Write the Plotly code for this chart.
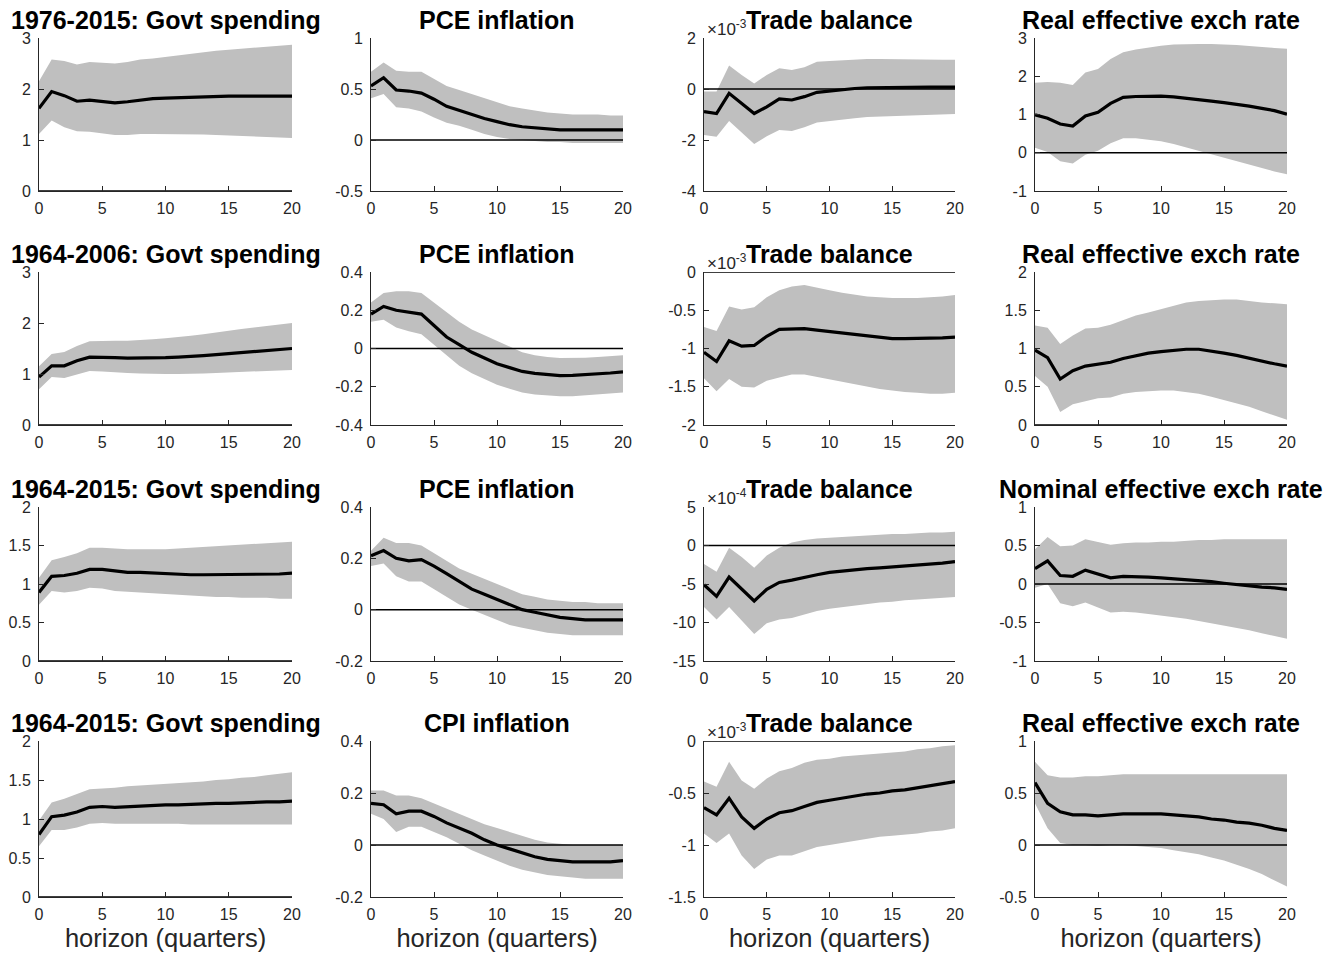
import plotly.graph_objects as go

# ---------------- data ----------------
HORIZON = list(range(21))
XLABEL = "horizon (quarters)"

TITLES = [
    ["1976-2015: Govt spending", "PCE inflation", "Trade balance", "Real effective exch rate"],
    ["1964-2006: Govt spending", "PCE inflation", "Trade balance", "Real effective exch rate"],
    ["1964-2015: Govt spending", "PCE inflation", "Trade balance", "Nominal effective exch rate"],
    ["1964-2015: Govt spending", "CPI inflation", "Trade balance", "Real effective exch rate"],
]

# y-axis ranges and tick steps per panel
YRANGES = [
    [(0, 3), (-0.5, 1), (-4, 2), (-1, 3)],
    [(0, 3), (-0.4, 0.4), (-2, 0), (0, 2)],
    [(0, 2), (-0.2, 0.4), (-15, 5), (-1, 1)],
    [(0, 2), (-0.2, 0.4), (-1.5, 0), (-0.5, 1)],
]
YSTEPS = [
    [1, 0.5, 2, 1],
    [1, 0.2, 0.5, 0.5],
    [0.5, 0.2, 5, 0.5],
    [0.5, 0.2, 0.5, 0.5],
]
# trade balance panels are shown in units of 10^exponent
TB_EXPONENT = [-3, -3, -4, -3]

# ----- row 1: 1976-2015 -----
G1_MED = [1.62, 1.95, 1.87, 1.76, 1.78, 1.76, 1.73, 1.75, 1.78, 1.81, 1.82, 1.83, 1.84, 1.84, 1.85, 1.86, 1.86, 1.86, 1.86, 1.86, 1.86]
G1_HI = [2.15, 2.58, 2.55, 2.48, 2.53, 2.52, 2.50, 2.53, 2.58, 2.60, 2.63, 2.67, 2.70, 2.73, 2.75, 2.77, 2.79, 2.81, 2.83, 2.85, 2.87]
G1_LO = [1.12, 1.38, 1.25, 1.17, 1.16, 1.13, 1.10, 1.10, 1.12, 1.12, 1.12, 1.12, 1.12, 1.11, 1.10, 1.09, 1.08, 1.07, 1.06, 1.05, 1.04]

P1_MED = [0.53, 0.61, 0.49, 0.48, 0.46, 0.40, 0.33, 0.29, 0.25, 0.21, 0.18, 0.15, 0.13, 0.12, 0.11, 0.10, 0.10, 0.10, 0.10, 0.10, 0.10]
P1_HI = [0.67, 0.76, 0.68, 0.67, 0.67, 0.60, 0.53, 0.49, 0.45, 0.41, 0.37, 0.33, 0.31, 0.29, 0.27, 0.26, 0.25, 0.25, 0.25, 0.24, 0.24]
P1_LO = [0.41, 0.45, 0.32, 0.31, 0.28, 0.22, 0.17, 0.14, 0.10, 0.06, 0.03, 0.01, 0.00, -0.01, -0.02, -0.02, -0.03, -0.03, -0.03, -0.03, -0.03]

T1_MED = [-0.89, -0.96, -0.17, -0.55, -0.96, -0.70, -0.39, -0.43, -0.30, -0.13, -0.07, -0.02, 0.02, 0.05, 0.06, 0.07, 0.07, 0.07, 0.07, 0.07, 0.07]
T1_HI = [-0.10, -0.10, 0.92, 0.55, 0.22, 0.55, 0.81, 0.75, 0.85, 1.07, 1.10, 1.13, 1.17, 1.18, 1.18, 1.17, 1.16, 1.16, 1.16, 1.15, 1.15]
T1_LO = [-1.80, -1.87, -1.25, -1.70, -2.16, -1.85, -1.61, -1.65, -1.50, -1.31, -1.25, -1.20, -1.15, -1.10, -1.08, -1.06, -1.04, -1.02, -1.00, -0.99, -0.98]

R1_MED = [0.99, 0.90, 0.75, 0.70, 0.96, 1.06, 1.29, 1.45, 1.47, 1.48, 1.48, 1.46, 1.43, 1.39, 1.35, 1.31, 1.27, 1.22, 1.16, 1.10, 1.01]
R1_HI = [1.83, 1.85, 1.83, 1.77, 2.10, 2.19, 2.45, 2.63, 2.70, 2.75, 2.80, 2.83, 2.84, 2.84, 2.84, 2.83, 2.82, 2.79, 2.76, 2.74, 2.72]
R1_LO = [0.13, 0.02, -0.22, -0.28, -0.05, 0.05, 0.25, 0.38, 0.38, 0.34, 0.30, 0.23, 0.14, 0.05, -0.04, -0.13, -0.22, -0.31, -0.40, -0.49, -0.56]

# ----- row 2: 1964-2006 -----
G2_MED = [0.94, 1.16, 1.16, 1.26, 1.33, 1.33, 1.32, 1.31, 1.31, 1.31, 1.32, 1.33, 1.34, 1.36, 1.38, 1.40, 1.42, 1.44, 1.46, 1.48, 1.50]
G2_HI = [1.15, 1.39, 1.43, 1.55, 1.64, 1.65, 1.65, 1.65, 1.66, 1.68, 1.70, 1.72, 1.75, 1.78, 1.82, 1.85, 1.88, 1.91, 1.93, 1.97, 2.00]
G2_LO = [0.70, 0.94, 0.92, 0.99, 1.06, 1.05, 1.03, 1.02, 1.01, 1.00, 1.00, 1.00, 1.00, 1.01, 1.02, 1.03, 1.04, 1.05, 1.06, 1.07, 1.08]

P2_MED = [0.18, 0.22, 0.20, 0.19, 0.18, 0.12, 0.06, 0.02, -0.02, -0.05, -0.08, -0.10, -0.12, -0.13, -0.138, -0.142, -0.14, -0.137, -0.133, -0.128, -0.122]
P2_HI = [0.24, 0.29, 0.30, 0.30, 0.29, 0.24, 0.19, 0.14, 0.10, 0.07, 0.04, 0.01, -0.02, -0.035, -0.045, -0.05, -0.05, -0.048, -0.044, -0.04, -0.035]
P2_LO = [0.14, 0.15, 0.11, 0.09, 0.075, 0.02, -0.04, -0.09, -0.13, -0.16, -0.19, -0.21, -0.23, -0.24, -0.245, -0.25, -0.25, -0.245, -0.24, -0.235, -0.23]

T2_MED = [-1.05, -1.17, -0.90, -0.97, -0.96, -0.84, -0.75, -0.74, -0.74, -0.76, -0.78, -0.80, -0.82, -0.84, -0.86, -0.87, -0.87, -0.87, -0.87, -0.86, -0.85]
T2_HI = [-0.72, -0.77, -0.45, -0.49, -0.46, -0.33, -0.24, -0.19, -0.17, -0.21, -0.24, -0.27, -0.30, -0.32, -0.33, -0.34, -0.34, -0.34, -0.33, -0.32, -0.30]
T2_LO = [-1.39, -1.56, -1.40, -1.50, -1.51, -1.42, -1.38, -1.34, -1.34, -1.37, -1.40, -1.43, -1.46, -1.50, -1.53, -1.55, -1.57, -1.58, -1.59, -1.59, -1.58]

R2_MED = [0.98, 0.88, 0.60, 0.71, 0.77, 0.80, 0.82, 0.87, 0.91, 0.94, 0.96, 0.98, 0.99, 0.99, 0.97, 0.94, 0.91, 0.87, 0.84, 0.80, 0.77]
R2_HI = [1.30, 1.27, 1.06, 1.17, 1.26, 1.27, 1.31, 1.37, 1.43, 1.47, 1.51, 1.56, 1.60, 1.62, 1.63, 1.64, 1.64, 1.62, 1.60, 1.59, 1.58]
R2_LO = [0.64, 0.50, 0.17, 0.27, 0.31, 0.35, 0.36, 0.41, 0.43, 0.44, 0.45, 0.45, 0.43, 0.41, 0.37, 0.33, 0.28, 0.24, 0.18, 0.12, 0.07]

# ----- row 3: 1964-2015 -----
G3_MED = [0.89, 1.10, 1.11, 1.14, 1.19, 1.19, 1.17, 1.15, 1.15, 1.14, 1.13, 1.13, 1.12, 1.12, 1.12, 1.12, 1.12, 1.12, 1.13, 1.13, 1.14]
G3_HI = [1.08, 1.31, 1.35, 1.40, 1.47, 1.47, 1.46, 1.45, 1.45, 1.45, 1.45, 1.46, 1.47, 1.48, 1.49, 1.50, 1.51, 1.52, 1.53, 1.54, 1.55]
G3_LO = [0.73, 0.91, 0.89, 0.91, 0.95, 0.94, 0.91, 0.90, 0.89, 0.88, 0.87, 0.86, 0.85, 0.84, 0.83, 0.83, 0.82, 0.82, 0.82, 0.81, 0.81]

P3_MED = [0.21, 0.23, 0.20, 0.19, 0.195, 0.17, 0.14, 0.11, 0.08, 0.06, 0.04, 0.02, 0.00, -0.01, -0.02, -0.03, -0.035, -0.04, -0.04, -0.04, -0.04]
P3_HI = [0.23, 0.28, 0.26, 0.26, 0.25, 0.22, 0.19, 0.16, 0.14, 0.12, 0.10, 0.08, 0.06, 0.05, 0.04, 0.035, 0.03, 0.03, 0.025, 0.025, 0.025]
P3_LO = [0.17, 0.18, 0.13, 0.11, 0.11, 0.08, 0.05, 0.02, 0.00, -0.02, -0.04, -0.06, -0.07, -0.08, -0.09, -0.095, -0.10, -0.10, -0.10, -0.10, -0.10]

T3_MED = [-5.1, -6.6, -4.1, -5.6, -7.2, -5.7, -4.8, -4.5, -4.1, -3.8, -3.5, -3.3, -3.2, -3.0, -2.9, -2.8, -2.6, -2.5, -2.4, -2.3, -2.1]
T3_HI = [-2.4, -3.4, -0.3, -1.5, -2.9, -1.3, -0.3, 0.4, 0.7, 0.9, 1.0, 1.1, 1.2, 1.3, 1.4, 1.5, 1.5, 1.6, 1.7, 1.7, 1.8]
T3_LO = [-8.0, -9.6, -8.0, -9.8, -11.5, -10.1, -9.6, -9.4, -8.9, -8.5, -8.2, -8.0, -7.8, -7.6, -7.4, -7.3, -7.1, -7.0, -6.9, -6.8, -6.7]

N3_MED = [0.20, 0.30, 0.11, 0.10, 0.18, 0.13, 0.08, 0.10, 0.10, 0.09, 0.08, 0.07, 0.06, 0.04, 0.03, 0.01, -0.01, -0.02, -0.04, -0.05, -0.07]
N3_HI = [0.45, 0.61, 0.49, 0.50, 0.58, 0.54, 0.51, 0.53, 0.54, 0.54, 0.55, 0.55, 0.56, 0.57, 0.57, 0.58, 0.58, 0.58, 0.58, 0.58, 0.58]
N3_LO = [-0.05, 0.00, -0.25, -0.29, -0.24, -0.31, -0.37, -0.36, -0.37, -0.39, -0.41, -0.43, -0.45, -0.48, -0.51, -0.54, -0.57, -0.60, -0.64, -0.68, -0.71]

# ----- row 4: 1964-2015 (CPI) -----
G4_MED = [0.80, 1.03, 1.05, 1.09, 1.15, 1.16, 1.15, 1.16, 1.17, 1.17, 1.18, 1.18, 1.19, 1.19, 1.20, 1.20, 1.21, 1.21, 1.22, 1.22, 1.23]
G4_HI = [0.98, 1.21, 1.26, 1.32, 1.38, 1.39, 1.40, 1.42, 1.43, 1.44, 1.45, 1.46, 1.47, 1.48, 1.50, 1.51, 1.53, 1.54, 1.56, 1.58, 1.60]
G4_LO = [0.65, 0.86, 0.86, 0.89, 0.94, 0.95, 0.94, 0.94, 0.94, 0.94, 0.94, 0.94, 0.93, 0.93, 0.93, 0.93, 0.93, 0.93, 0.93, 0.93, 0.93]

C4_MED = [0.16, 0.155, 0.12, 0.13, 0.13, 0.11, 0.085, 0.065, 0.045, 0.02, 0.00, -0.015, -0.03, -0.045, -0.055, -0.06, -0.065, -0.065, -0.065, -0.065, -0.06]
C4_HI = [0.21, 0.21, 0.19, 0.19, 0.18, 0.16, 0.14, 0.12, 0.10, 0.08, 0.065, 0.05, 0.035, 0.02, 0.01, 0.005, 0.00, 0.00, 0.00, 0.00, 0.00]
C4_LO = [0.12, 0.10, 0.05, 0.07, 0.07, 0.05, 0.03, 0.005, -0.02, -0.04, -0.06, -0.08, -0.095, -0.105, -0.115, -0.12, -0.125, -0.13, -0.13, -0.13, -0.13]

T4_MED = [-0.64, -0.71, -0.55, -0.73, -0.84, -0.75, -0.69, -0.67, -0.63, -0.59, -0.57, -0.55, -0.53, -0.51, -0.50, -0.48, -0.47, -0.45, -0.43, -0.41, -0.39]
T4_HI = [-0.39, -0.44, -0.20, -0.38, -0.46, -0.36, -0.29, -0.26, -0.21, -0.18, -0.17, -0.15, -0.14, -0.13, -0.12, -0.11, -0.10, -0.08, -0.07, -0.05, -0.04]
T4_LO = [-0.89, -0.98, -0.89, -1.10, -1.23, -1.14, -1.10, -1.10, -1.06, -1.02, -1.00, -0.98, -0.96, -0.94, -0.92, -0.91, -0.90, -0.89, -0.87, -0.86, -0.84]

R4_MED = [0.60, 0.40, 0.32, 0.29, 0.29, 0.28, 0.29, 0.30, 0.30, 0.30, 0.30, 0.29, 0.28, 0.27, 0.25, 0.24, 0.22, 0.21, 0.19, 0.16, 0.14]
R4_HI = [0.80, 0.67, 0.65, 0.65, 0.66, 0.66, 0.67, 0.68, 0.68, 0.68, 0.68, 0.68, 0.68, 0.68, 0.68, 0.68, 0.68, 0.68, 0.68, 0.68, 0.68]
R4_LO = [0.40, 0.16, 0.02, 0.00, 0.00, -0.01, 0.00, 0.00, -0.01, -0.02, -0.03, -0.05, -0.07, -0.09, -0.12, -0.15, -0.19, -0.23, -0.28, -0.34, -0.40]

PANELS = [
    [(G1_MED, G1_LO, G1_HI), (P1_MED, P1_LO, P1_HI), (T1_MED, T1_LO, T1_HI), (R1_MED, R1_LO, R1_HI)],
    [(G2_MED, G2_LO, G2_HI), (P2_MED, P2_LO, P2_HI), (T2_MED, T2_LO, T2_HI), (R2_MED, R2_LO, R2_HI)],
    [(G3_MED, G3_LO, G3_HI), (P3_MED, P3_LO, P3_HI), (T3_MED, T3_LO, T3_HI), (N3_MED, N3_LO, N3_HI)],
    [(G4_MED, G4_LO, G4_HI), (C4_MED, C4_LO, C4_HI), (T4_MED, T4_LO, T4_HI), (R4_MED, R4_LO, R4_HI)],
]

# ---------------- layout ----------------
W, H = 1342, 958
PAGE_OFFSET = 8  # the page body adds an 8px margin around the figure
COL_PX = [(39, 292), (371, 623), (704, 955), (1035, 1287)]
ROW_PX = [(38, 191), (272, 425), (507, 661), (741, 897)]

FONT = "Liberation Sans, Arial, Helvetica, sans-serif"
AX_COLOR = "#262626"
BAND = "rgb(191,191,191)"

fig = go.Figure()
layout = dict(
    width=W, height=H,
    margin=dict(l=0, r=0, t=0, b=0, autoexpand=False),
    paper_bgcolor="white", plot_bgcolor="white",
    showlegend=False,
    font=dict(family=FONT, color=AX_COLOR),
    annotations=[],
)


def fmt(v):
    s = "%g" % round(v, 6)
    return "0" if s in ("-0", "0") else s


for r in range(4):
    for c in range(4):
        k = r * 4 + c + 1
        xa = "x" if k == 1 else "x%d" % k
        ya = "y" if k == 1 else "y%d" % k
        med, lo, hi = PANELS[r][c]

        # confidence band
        fig.add_trace(go.Scatter(x=HORIZON, y=hi, mode="lines", line=dict(width=0, color=BAND),
                                 xaxis=xa, yaxis=ya, hoverinfo="skip"))
        fig.add_trace(go.Scatter(x=HORIZON, y=lo, mode="lines", line=dict(width=0, color=BAND),
                                 fill="tonexty", fillcolor=BAND, xaxis=xa, yaxis=ya, hoverinfo="skip"))
        # zero line
        fig.add_trace(go.Scatter(x=[HORIZON[0], HORIZON[-1]], y=[0, 0], mode="lines",
                                 line=dict(color="black", width=1.5), xaxis=xa, yaxis=ya, hoverinfo="skip"))
        # median response
        fig.add_trace(go.Scatter(x=HORIZON, y=med, mode="lines", line=dict(color="black", width=3.2),
                                 xaxis=xa, yaxis=ya))

        x0, x1 = (p - PAGE_OFFSET for p in COL_PX[c])
        y0, y1 = (p - PAGE_OFFSET for p in ROW_PX[r])
        ylo, yhi = YRANGES[r][c]
        step = YSTEPS[r][c]
        n = int(round((yhi - ylo) / step))
        tv = [ylo + i * step for i in range(n + 1)]

        xkey = "xaxis" if k == 1 else "xaxis%d" % k
        ykey = "yaxis" if k == 1 else "yaxis%d" % k
        layout[xkey] = dict(
            domain=[x0 / W, x1 / W], anchor=ya, range=[0, 20], automargin=False,
            tickvals=[0, 5, 10, 15, 20], ticktext=["0", "5", "10", "15", "20"],
            ticks="inside", ticklen=5, tickcolor=AX_COLOR, tickwidth=1,
            showline=True, linecolor=AX_COLOR, linewidth=1, mirror=False,
            showgrid=False, zeroline=False, fixedrange=True,
            tickfont=dict(family=FONT, size=16, color=AX_COLOR),
            ticklabelstandoff=3,
        )
        if r == 3:
            layout[xkey]["title"] = dict(text=XLABEL, font=dict(family=FONT, size=25.5, color=AX_COLOR), standoff=6)
        layout[ykey] = dict(
            domain=[1 - y1 / H, 1 - y0 / H], anchor=xa, range=[ylo, yhi], automargin=False,
            tickvals=tv, ticktext=[fmt(v) for v in tv],
            ticks="inside", ticklen=5, tickcolor=AX_COLOR, tickwidth=1,
            showline=True, linecolor=AX_COLOR, linewidth=1, mirror=False,
            showgrid=False, zeroline=False, fixedrange=True,
            tickfont=dict(family=FONT, size=16, color=AX_COLOR),
            ticklabelstandoff=4,
        )

        # panel title
        layout["annotations"].append(dict(
            text="<b>%s</b>" % TITLES[r][c], xref="%s domain" % xa, yref="%s domain" % ya,
            x=0.5, y=1, xanchor="center", yanchor="middle", yshift=18, showarrow=False,
            font=dict(family=FONT, size=25, color="black"),
        ))
        # exponent label for trade balance
        if c == 2:
            layout["annotations"].append(dict(
                text="×10<sup>%d</sup>" % TB_EXPONENT[r], xref="%s domain" % xa, yref="%s domain" % ya,
                x=0, y=1, xanchor="left", yanchor="bottom", yshift=-3, xshift=1, showarrow=False,
                font=dict(family=FONT, size=17, color=AX_COLOR),
            ))

fig.update_layout(**layout)
fig.write_html("out.html")
